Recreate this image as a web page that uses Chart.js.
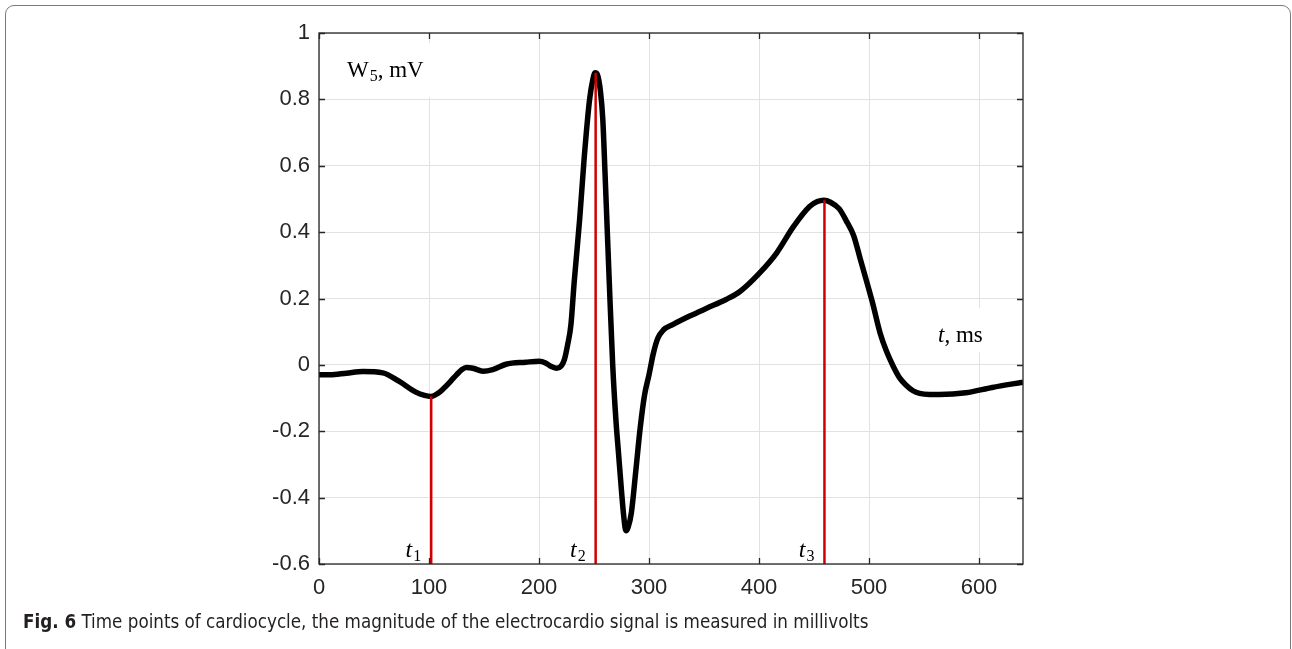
<!DOCTYPE html>
<html>
<head>
<meta charset="utf-8">
<script src="https://cdn.jsdelivr.net/npm/chart.js@4"></script>
<style>
  body { margin: 0; background: #fff; }
  #wrap { position: relative; width: 1292px; height: 649px; overflow: hidden; }
  #frame { position: absolute; left: 5px; top: 5px; width: 1284px; height: 700px;
           border: 1.5px solid #7a7a7a; border-radius: 9px; }
  #chart { position: absolute; left: 0; top: 0; }
  #caption { position: absolute; left: 23px; top: 610px; white-space: nowrap;
             font-family: "Liberation Sans Narrow", "DejaVu Sans Condensed", sans-serif;
             font-size: 19px; color: #231f20; transform-origin: left top; display: inline-block; }
</style>
</head>
<body>
<div id="wrap">
  <div id="frame"></div>
  <canvas id="chart" width="1292" height="649"></canvas>
  <span id="caption"><b>Fig. 6</b> Time points of cardiocycle, the magnitude of the electrocardio signal is measured in millivolts</span>
</div>
<script>
// signal W5 (mV) vs time (ms)
const times = [0, 10, 25, 40, 58, 73, 88, 96, 102, 108, 113, 120, 125, 130, 134, 140, 149, 158, 170, 188,
  200, 206, 210, 216, 220, 223, 226, 229, 232, 237, 241, 246, 249, 251, 253, 256, 258, 260, 262, 264,
  267, 270, 272, 275, 277, 279, 281, 284, 288, 292, 296, 300, 304, 308, 313, 322, 337, 352, 370, 383,
  400, 416, 431, 446, 453, 459, 465, 473, 480, 486, 492, 498, 503, 510, 516, 522, 528, 534, 540, 546,
  555, 564, 588, 612, 640];
const w5 = [-0.030, -0.030, -0.025, -0.020, -0.024, -0.050, -0.082, -0.092, -0.095, -0.086, -0.072, -0.048, -0.030, -0.014, -0.008, -0.010, -0.019, -0.014, 0.002, 0.008,
  0.011, 0.006, -0.003, -0.010, -0.004, 0.015, 0.060, 0.120, 0.250, 0.440, 0.620, 0.800, 0.860, 0.880, 0.875, 0.820, 0.740, 0.580, 0.410, 0.240,
  0.000, -0.170, -0.254, -0.380, -0.455, -0.500, -0.490, -0.445, -0.320, -0.190, -0.090, -0.030, 0.035, 0.080, 0.105, 0.122, 0.147, 0.170, 0.197, 0.222,
  0.275, 0.337, 0.415, 0.477, 0.492, 0.496, 0.490, 0.470, 0.430, 0.390, 0.320, 0.250, 0.190, 0.097, 0.040, -0.004, -0.040, -0.062, -0.078, -0.086,
  -0.089, -0.089, -0.084, -0.068, -0.052];

// time points t1..t3 (red markers)
const markerNames = ["1", "2", "3"];
const markerTimes = [102, 251.5, 459.5];
const markerValues = [-0.095, 0.88, 0.496];

const xTicks = [0, 100, 200, 300, 400, 500, 600];
const xTickLabels = ["0", "100", "200", "300", "400", "500", "600"];
const yTicks = [-0.6, -0.4, -0.2, 0, 0.2, 0.4, 0.6, 0.8, 1];
const yTickLabels = ["-0.6", "-0.4", "-0.2", "0", "0.2", "0.4", "0.6", "0.8", "1"];

const axisColor = "#262626";
const gridColor = "#e2e2e2";

const signal = times.map((t, i) => ({ x: t, y: w5[i] }));
const markerSets = markerTimes.map((t, i) => ({
  data: [{ x: t, y: -0.6 }, { x: t, y: markerValues[i] }],
  borderColor: "#d10000",
  borderWidth: 2.5,
  pointRadius: 0,
  showLine: true,
  order: 0
}));

function serifLabel(ctx, x, y, main, sub, italic, size) {
  ctx.font = (italic ? "italic " : "") + size + "px 'Liberation Serif', serif";
  ctx.fillText(main, x, y);
  const w = ctx.measureText(main).width;
  ctx.font = Math.round(size * 0.68) + "px 'Liberation Serif', serif";
  ctx.fillText(sub, x + w + 1, y + 4);
  return w + 1 + ctx.measureText(sub).width;
}

const decor = {
  id: "decor",
  afterDatasetsDraw(chart) {
    const ctx = chart.ctx, a = chart.chartArea;
    const xs = chart.scales.x, ys = chart.scales.y;
    ctx.save();
    // axis labels with white background
    ctx.fillStyle = "#fff";
    ctx.fillRect(a.left + 2, a.top + 10, 114, 54);
    ctx.fillRect(xs.getPixelForValue(560), ys.getPixelForValue(0.17), 85, 44);
    ctx.fillStyle = "#000";
    ctx.textBaseline = "alphabetic";
    let w = serifLabel(ctx, 347, 77, "W", "5", false, 23);
    ctx.font = "23px 'Liberation Serif', serif";
    ctx.fillText(", mV", 347 + w, 77);
    ctx.font = "italic 23px 'Liberation Serif', serif";
    ctx.fillText("t", 938, 342);
    const tw = ctx.measureText("t").width;
    ctx.font = "23px 'Liberation Serif', serif";
    ctx.fillText(", ms", 938 + tw, 342);
    // marker names
    markerTimes.forEach((t, i) => {
      const px = xs.getPixelForValue(t);
      ctx.font = "italic 24px 'Liberation Serif', serif";
      const mw = ctx.measureText("t").width;
      ctx.font = "16px 'Liberation Serif', serif";
      const sw = ctx.measureText(markerNames[i]).width;
      serifLabel(ctx, px - 11 - mw - sw, 557, "t", markerNames[i], true, 24);
    });
    // box and inside ticks
    ctx.strokeStyle = axisColor;
    ctx.lineWidth = 1.3;
    ctx.strokeRect(a.left, a.top, a.right - a.left, a.bottom - a.top);
    ctx.beginPath();
    xTicks.forEach(v => {
      const p = Math.round(xs.getPixelForValue(v)) + 0.5;
      ctx.moveTo(p, a.bottom); ctx.lineTo(p, a.bottom - 6);
      ctx.moveTo(p, a.top); ctx.lineTo(p, a.top + 6);
    });
    yTicks.forEach(v => {
      const p = Math.round(ys.getPixelForValue(v)) + 0.5;
      ctx.moveTo(a.left, p); ctx.lineTo(a.left + 6, p);
      ctx.moveTo(a.right, p); ctx.lineTo(a.right - 6, p);
    });
    ctx.stroke();
    ctx.restore();
  }
};

new Chart(document.getElementById("chart"), {
  type: "scatter",
  data: {
    datasets: [{
      data: signal,
      showLine: true,
      borderColor: "#000",
      borderWidth: 5.5,
      pointRadius: 0,
      cubicInterpolationMode: "monotone",
      order: 1
    }].concat(markerSets)
  },
  options: {
    responsive: false,
    animation: false,
    layout: { padding: { left: 0, right: 269, top: 33, bottom: 0 } },
    plugins: { legend: { display: false }, tooltip: { enabled: false } },
    scales: {
      x: {
        type: "linear", min: 0, max: 640,
        afterBuildTicks: s => { s.ticks = xTicks.map(v => ({ value: v })); },
        afterFit: s => { s.height = 85; },
        grid: { color: gridColor, lineWidth: 1, drawTicks: false },
        border: { display: false },
        ticks: {
          padding: 11, color: axisColor, maxRotation: 0,
          font: { family: "'Liberation Sans', Arial, sans-serif", size: 22 },
          callback: v => xTickLabels[xTicks.indexOf(v)]
        }
      },
      y: {
        type: "linear", min: -0.6, max: 1,
        afterBuildTicks: s => { s.ticks = yTicks.map(v => ({ value: v })); },
        afterFit: s => { s.width = 319; },
        grid: { color: gridColor, lineWidth: 1, drawTicks: false },
        border: { display: false },
        ticks: {
          padding: 9, color: axisColor,
          font: { family: "'Liberation Sans', Arial, sans-serif", size: 22 },
          callback: v => yTickLabels[yTicks.findIndex(t => Math.abs(t - v) < 1e-9)]
        }
      }
    }
  },
  plugins: [decor]
});

const cap = document.getElementById("caption");
cap.style.transform = "scaleX(" + (845 / cap.offsetWidth) + ")";
</script>
</body>
</html>
